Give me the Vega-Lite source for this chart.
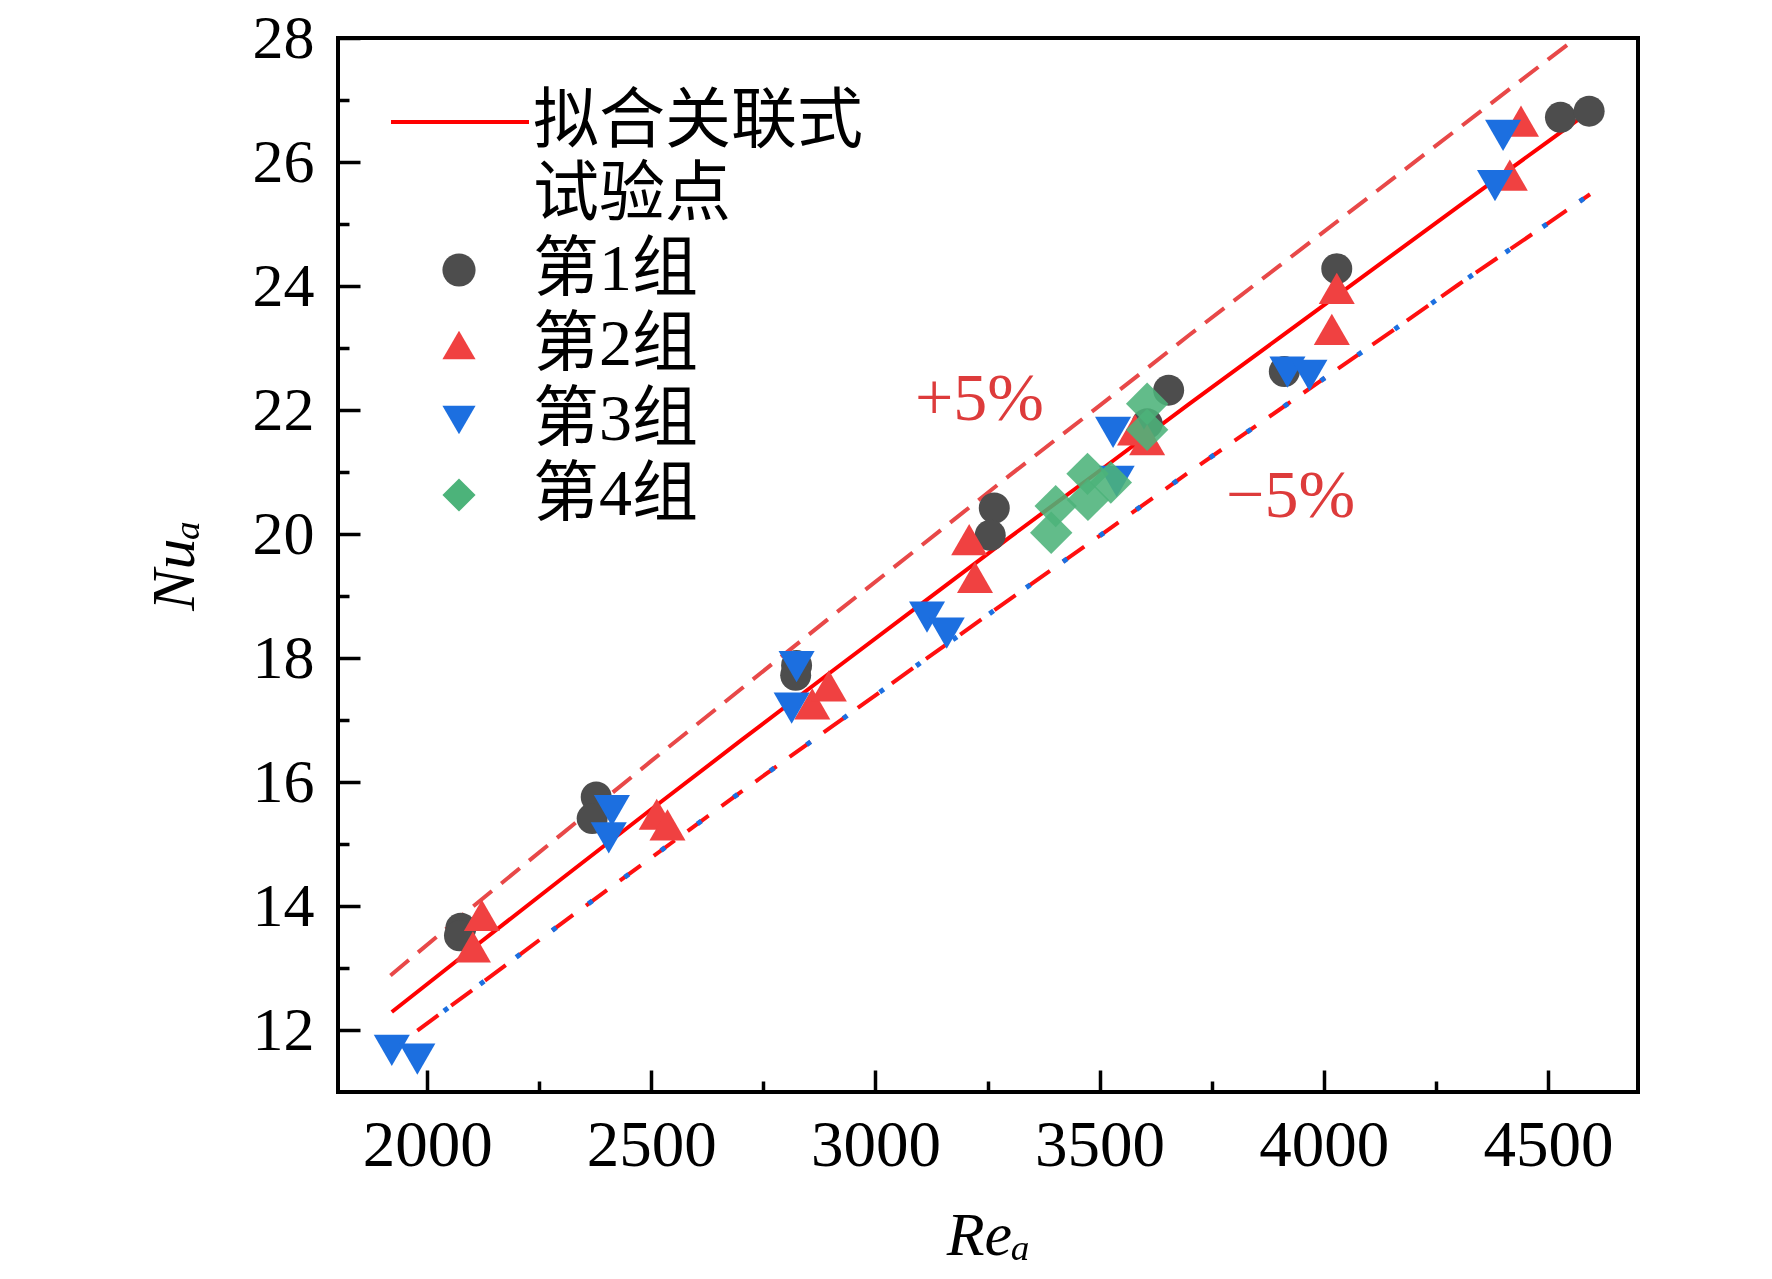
{
  "$schema": "https://vega.github.io/schema/vega-lite/v6.json",
  "width": 1300,
  "height": 1054,
  "autosize": {"type": "none"},
  "padding": {"left": 338, "top": 38, "right": 134, "bottom": 187},
  "background": "white",
  "datasets": {
    "fit": [
      {"Re": 1921, "Nu": 12.29, "name": "拟合关联式"},
      {"Re": 2100, "Nu": 13.31, "name": "拟合关联式"},
      {"Re": 2300, "Nu": 14.44, "name": "拟合关联式"},
      {"Re": 2500, "Nu": 15.56, "name": "拟合关联式"},
      {"Re": 2700, "Nu": 16.67, "name": "拟合关联式"},
      {"Re": 2900, "Nu": 17.77, "name": "拟合关联式"},
      {"Re": 3100, "Nu": 18.86, "name": "拟合关联式"},
      {"Re": 3300, "Nu": 19.95, "name": "拟合关联式"},
      {"Re": 3500, "Nu": 21.02, "name": "拟合关联式"},
      {"Re": 3700, "Nu": 22.10, "name": "拟合关联式"},
      {"Re": 3900, "Nu": 23.16, "name": "拟合关联式"},
      {"Re": 4100, "Nu": 24.22, "name": "拟合关联式"},
      {"Re": 4300, "Nu": 25.28, "name": "拟合关联式"},
      {"Re": 4500, "Nu": 26.33, "name": "拟合关联式"},
      {"Re": 4590, "Nu": 26.80, "name": "拟合关联式"}
    ],
    "plus": [
      {"Re": 1918, "Nu": 12.88},
      {"Re": 2100, "Nu": 13.98},
      {"Re": 2300, "Nu": 15.16},
      {"Re": 2500, "Nu": 16.34},
      {"Re": 2700, "Nu": 17.50},
      {"Re": 2900, "Nu": 18.66},
      {"Re": 3100, "Nu": 19.80},
      {"Re": 3300, "Nu": 20.95},
      {"Re": 3500, "Nu": 22.07},
      {"Re": 3700, "Nu": 23.21},
      {"Re": 3900, "Nu": 24.32},
      {"Re": 4100, "Nu": 25.43},
      {"Re": 4300, "Nu": 26.54},
      {"Re": 4500, "Nu": 27.65},
      {"Re": 4560, "Nu": 27.98}
    ],
    "minus": [
      {"Re": 1978, "Nu": 11.99},
      {"Re": 2100, "Nu": 12.64},
      {"Re": 2300, "Nu": 13.72},
      {"Re": 2500, "Nu": 14.78},
      {"Re": 2700, "Nu": 15.84},
      {"Re": 2900, "Nu": 16.88},
      {"Re": 3100, "Nu": 17.92},
      {"Re": 3300, "Nu": 18.95},
      {"Re": 3500, "Nu": 19.97},
      {"Re": 3700, "Nu": 21.00},
      {"Re": 3900, "Nu": 22.00},
      {"Re": 4100, "Nu": 23.01},
      {"Re": 4300, "Nu": 24.02},
      {"Re": 4500, "Nu": 25.01},
      {"Re": 4594, "Nu": 25.48}
    ],
    "pts": [
      {"Re": 2075, "Nu": 13.64, "g": "第1组"},
      {"Re": 2072, "Nu": 13.52, "g": "第1组"},
      {"Re": 2377, "Nu": 15.76, "g": "第1组"},
      {"Re": 2368, "Nu": 15.41, "g": "第1组"},
      {"Re": 2824, "Nu": 17.88, "g": "第1组"},
      {"Re": 2822, "Nu": 17.72, "g": "第1组"},
      {"Re": 3265, "Nu": 20.42, "g": "第1组"},
      {"Re": 3256, "Nu": 19.98, "g": "第1组"},
      {"Re": 3606, "Nu": 21.78, "g": "第1组"},
      {"Re": 3654, "Nu": 22.32, "g": "第1组"},
      {"Re": 3912, "Nu": 22.62, "g": "第1组"},
      {"Re": 4029, "Nu": 24.28, "g": "第1组"},
      {"Re": 4528, "Nu": 26.72, "g": "第1组"},
      {"Re": 4592, "Nu": 26.82, "g": "第1组"},
      {"Re": 2122, "Nu": 13.85, "g": "第2组"},
      {"Re": 2102, "Nu": 13.34, "g": "第2组"},
      {"Re": 2512, "Nu": 15.48, "g": "第2组"},
      {"Re": 2536, "Nu": 15.31, "g": "第2组"},
      {"Re": 2859, "Nu": 17.26, "g": "第2组"},
      {"Re": 2896, "Nu": 17.55, "g": "第2组"},
      {"Re": 3209, "Nu": 19.91, "g": "第2组"},
      {"Re": 3222, "Nu": 19.30, "g": "第2组"},
      {"Re": 3579, "Nu": 21.68, "g": "第2组"},
      {"Re": 3606, "Nu": 21.52, "g": "第2组"},
      {"Re": 4029, "Nu": 23.96, "g": "第2组"},
      {"Re": 4018, "Nu": 23.30, "g": "第2组"},
      {"Re": 4440, "Nu": 26.66, "g": "第2组"},
      {"Re": 4415, "Nu": 25.79, "g": "第2组"},
      {"Re": 1921, "Nu": 11.67, "g": "第3组"},
      {"Re": 1978, "Nu": 11.53, "g": "第3组"},
      {"Re": 2412, "Nu": 15.54, "g": "第3组"},
      {"Re": 2405, "Nu": 15.10, "g": "第3组"},
      {"Re": 2824, "Nu": 17.86, "g": "第3组"},
      {"Re": 2813, "Nu": 17.19, "g": "第3组"},
      {"Re": 3115, "Nu": 18.66, "g": "第3组"},
      {"Re": 3159, "Nu": 18.40, "g": "第3组"},
      {"Re": 3530, "Nu": 21.64, "g": "第3组"},
      {"Re": 3538, "Nu": 20.85, "g": "第3组"},
      {"Re": 3919, "Nu": 22.61, "g": "第3组"},
      {"Re": 3968, "Nu": 22.56, "g": "第3组"},
      {"Re": 4400, "Nu": 26.43, "g": "第3组"},
      {"Re": 4382, "Nu": 25.62, "g": "第3组"},
      {"Re": 3392, "Nu": 20.02, "g": "第4组"},
      {"Re": 3402, "Nu": 20.45, "g": "第4组"},
      {"Re": 3474, "Nu": 20.55, "g": "第4组"},
      {"Re": 3473, "Nu": 20.97, "g": "第4组"},
      {"Re": 3525, "Nu": 20.83, "g": "第4组"},
      {"Re": 3606, "Nu": 21.68, "g": "第4组"},
      {"Re": 3606, "Nu": 22.10, "g": "第4组"}
    ],
    "notes": [
      {"Re": 3232, "Nu": 22.16, "t": "+5%"},
      {"Re": 3926, "Nu": 20.60, "t": "−5%"}
    ]
  },
  "encoding": {
    "x": {
      "field": "Re",
      "type": "quantitative",
      "scale": {"domain": [1801, 4701], "nice": false, "zero": false},
      "axis": {
        "title": "Reₐ",
        "values": [2000, 2250, 2500, 2750, 3000, 3250, 3500, 3750, 4000, 4250, 4500],
        "format": "d",
        "labelExpr": "datum.value % 500 === 0 ? datum.label : ''",
        "tickSize": {"condition": {"test": "datum.value % 500 === 0", "value": -22}, "value": -11},
        "labelFontSize": 65,
        "labelPadding": 44,
        "titlePadding": 16
      }
    },
    "y": {
      "field": "Nu",
      "type": "quantitative",
      "scale": {"domain": [11, 28], "nice": false, "zero": false},
      "axis": {
        "title": "Nuₐ",
        "values": [12, 13, 14, 15, 16, 17, 18, 19, 20, 21, 22, 23, 24, 25, 26, 27, 28],
        "labelExpr": "datum.value % 2 === 0 ? datum.label : ''",
        "tickSize": {"condition": {"test": "datum.value % 2 === 0", "value": -22}, "value": -11},
        "labelPadding": 46,
        "titlePadding": 46
      }
    }
  },
  "layer": [
    {
      "data": {"name": "plus"},
      "mark": {"type": "line", "color": "#e84848", "strokeWidth": 4, "strokeDash": [24, 12], "clip": true}
    },
    {
      "data": {"name": "minus"},
      "mark": {"type": "line", "color": "#ff1010", "strokeWidth": 4, "strokeDash": [26, 16], "clip": true}
    },
    {
      "data": {"name": "minus"},
      "mark": {"type": "line", "color": "#1c6fe0", "strokeWidth": 5, "strokeDash": [5, 40], "strokeDashOffset": 12, "clip": true}
    },
    {
      "data": {"name": "fit"},
      "mark": {"type": "line", "strokeWidth": 4, "clip": true},
      "encoding": {
        "stroke": {
          "field": "name",
          "type": "nominal",
          "scale": {"range": ["#ff0000"]},
          "legend": {
            "orient": "none",
            "legendX": 51,
            "legendY": 13,
            "title": null,
            "padding": 0,
            "symbolType": "stroke",
            "symbolSize": 19044,
            "symbolStrokeWidth": 4,
            "labelOffset": 2,
            "labelFont": "Liberation Serif, Noto Sans CJK SC",
            "labelFontSize": 66,
            "labelColor": "black",
            "labelLimit": 600
          }
        }
      }
    },
    {
      "data": {"name": "pts"},
      "mark": {"type": "point", "filled": true, "strokeWidth": 0},
      "encoding": {
        "color": {
          "field": "g",
          "type": "nominal",
          "scale": {
            "domain": ["试验点", "第1组", "第2组", "第3组", "第4组"],
            "range": ["transparent", "#4d4d4d", "#f04141", "#1c6fe0", "#4cb37a"]
          },
          "legend": {
            "orient": "none",
            "legendX": 88,
            "legendY": 124,
            "title": null,
            "padding": 0,
            "symbolSize": 1100,
            "symbolStrokeWidth": 0,
            "symbolOpacity": 1,
            "labelOffset": 41,
            "rowPadding": 9,
            "labelFont": "Liberation Serif, Noto Sans CJK SC",
            "labelFontSize": 66,
            "labelColor": "black",
            "labelLimit": 600
          }
        },
        "shape": {
          "field": "g",
          "type": "nominal",
          "scale": {
            "domain": ["试验点", "第1组", "第2组", "第3组", "第4组"],
            "range": ["circle", "circle", "triangle-up", "triangle-down", "diamond"]
          },
          "legend": {
            "orient": "none",
            "legendX": 88,
            "legendY": 124,
            "title": null,
            "padding": 0,
            "symbolSize": 1100,
            "symbolStrokeWidth": 0,
            "symbolOpacity": 1,
            "labelOffset": 41,
            "rowPadding": 9,
            "labelFont": "Liberation Serif, Noto Sans CJK SC",
            "labelFontSize": 66,
            "labelColor": "black",
            "labelLimit": 600
          }
        },
        "size": {
          "condition": [
            {"test": "datum.g === '第1组'", "value": 960},
            {"test": "datum.g === '第4组'", "value": 1800}
          ],
          "value": 1300
        },
        "opacity": {"condition": {"test": "datum.g === '第4组'", "value": 0.88}, "value": 1}
      }
    },
    {
      "data": {"name": "notes"},
      "mark": {"type": "text", "font": "Liberation Serif", "fontSize": 68, "color": "#dd3b3b", "align": "center", "baseline": "middle"},
      "encoding": {"text": {"field": "t"}}
    }
  ],
  "config": {
    "view": {"stroke": "black", "strokeWidth": 4},
    "axis": {
      "domain": false,
      "grid": false,
      "tickColor": "black",
      "tickWidth": 3.5,
      "labelFont": "Liberation Serif",
      "labelFontSize": 62,
      "labelColor": "black",
      "labelFlush": false,
      "labelOverlap": false,
      "titleFont": "Liberation Serif, DejaVu Serif",
      "titleFontSize": 62,
      "titleFontStyle": "italic",
      "titleFontWeight": "normal",
      "titleColor": "black"
    }
  }
}
